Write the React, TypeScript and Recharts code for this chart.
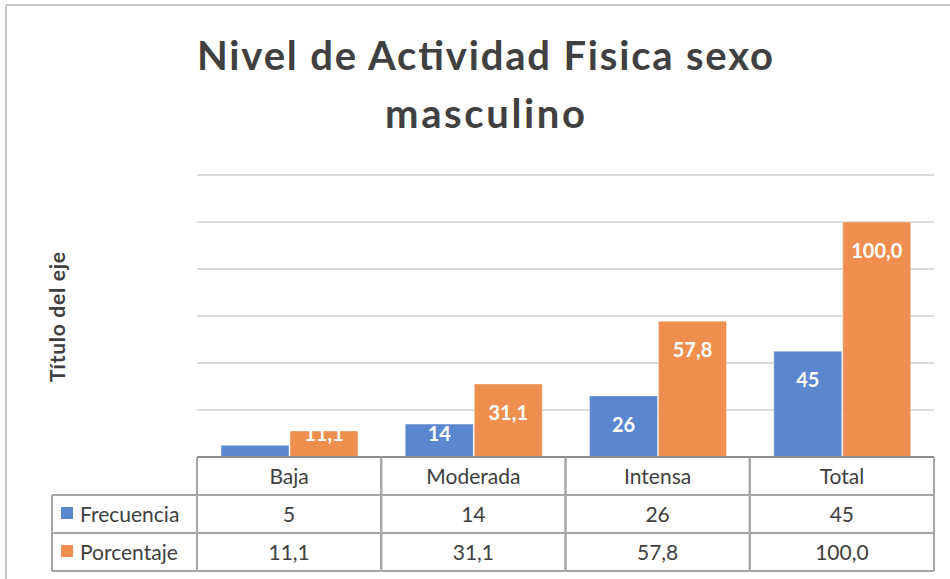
import React from 'react'
import { BarChart, Bar, XAxis, YAxis, CartesianGrid, LabelList } from 'recharts'

const categories = ['Baja', 'Moderada', 'Intensa', 'Total']
const frecuencia = [5, 14, 26, 45]
const porcentaje = [11.1, 31.1, 57.8, 100.0]
const yTicks = [0, 20, 40, 60, 80, 100, 120]

const FONT = 'Lato, "Open Sans", sans-serif'
const TEXT = '#404040'
const BORDER = '#a6a6a6'

const fmtInt = (v: number) => String(v)
const fmtPct = (v: number) => v.toFixed(1).replace('.', ',')

const series = [
  { key: 'frecuencia', name: 'Frecuencia', color: '#5B87CF', values: frecuencia, fmt: fmtInt },
  { key: 'porcentaje', name: 'Porcentaje', color: '#EF8F4F', values: porcentaje, fmt: fmtPct },
]

const data = categories.map((name, i) => ({
  name,
  frecuencia: frecuencia[i],
  porcentaje: porcentaje[i],
}))

const ROW_H = 38
const LEGEND_W = 145

// data table drawn under each category (Excel style "tabla de datos")
function TableTick(props: any) {
  const { x, y, payload } = props
  const half = payload?.offset || 92
  const left = x - half
  const right = x + half
  const i = payload.index
  const rows = [y, y + ROW_H, y + ROW_H * 2, y + ROW_H * 3]
  const mid = (r: number) => rows[r] + ROW_H / 2 - 1
  return (
    <g fontFamily={FONT} fontSize={21} fill={TEXT}>
      {/* cell borders */}
      <line x1={left} x2={left} y1={rows[0]} y2={rows[3]} stroke={BORDER} strokeWidth={2} />
      <line x1={right} x2={right} y1={rows[0]} y2={rows[3]} stroke={BORDER} strokeWidth={2} />
      <line x1={left} x2={right} y1={rows[1]} y2={rows[1]} stroke={BORDER} strokeWidth={2} />
      <line x1={left} x2={right} y1={rows[2]} y2={rows[2]} stroke={BORDER} strokeWidth={2} />
      <line x1={left} x2={right} y1={rows[3]} y2={rows[3]} stroke={BORDER} strokeWidth={2} />
      <text x={x} y={mid(0)} textAnchor="middle" dominantBaseline="central">
        {payload.value}
      </text>
      {series.map((s, r) => (
        <text key={s.key} x={x} y={mid(r + 1)} textAnchor="middle" dominantBaseline="central">
          {s.fmt(s.values[i])}
        </text>
      ))}
      {/* legend column on the left of the first category */}
      {i === 0 && (
        <g>
          <line x1={left - LEGEND_W} x2={left - LEGEND_W} y1={rows[1]} y2={rows[3]} stroke={BORDER} strokeWidth={2} />
          <line x1={left - LEGEND_W} x2={left} y1={rows[1]} y2={rows[1]} stroke={BORDER} strokeWidth={2} />
          <line x1={left - LEGEND_W} x2={left} y1={rows[2]} y2={rows[2]} stroke={BORDER} strokeWidth={2} />
          <line x1={left - LEGEND_W} x2={left} y1={rows[3]} y2={rows[3]} stroke={BORDER} strokeWidth={2} />
          {series.map((s, r) => (
            <g key={s.key}>
              <rect x={left - LEGEND_W + 9} y={mid(r + 1) - 6} width={12} height={12} fill={s.color} />
              <text x={left - LEGEND_W + 28} y={mid(r + 1)} dominantBaseline="central">
                {s.name}
              </text>
            </g>
          ))}
        </g>
      )}
    </g>
  )
}

// white label near the top of the bar, kept above the table for short bars
const makeLabel = (fmt: (v: number) => string) => (props: any) => {
  const { x, y, width, height, value } = props
  const cy = Math.min(y + 28, y + height - 24)
  return (
    <text
      x={x + width / 2}
      y={cy}
      textAnchor="middle"
      dominantBaseline="central"
      fill="#ffffff"
      fontFamily={FONT}
      fontWeight={700}
      fontSize={20}
    >
      {fmt(value)}
    </text>
  )
}

export default function App() {
  return (
    <div style={{ position: 'absolute', left: 0, top: 0, width: 950, height: 579, background: '#fff', overflow: 'hidden' }}>
      <BarChart
        width={950}
        height={579}
        data={data}
        margin={{ top: 175, right: 16, left: 197, bottom: 0 }}
        barCategoryGap={24}
        barGap={1}
      >
        <CartesianGrid vertical={false} stroke="#cfcfcf" strokeWidth={1.5} />
        <YAxis hide domain={[0, 120]} ticks={yTicks} />
        <XAxis
          dataKey="name"
          interval={0}
          height={122}
          tickSize={0}
          tickMargin={0}
          tickLine={false}
          axisLine={{ stroke: '#8c8c8c', strokeWidth: 2 }}
          tick={<TableTick />}
        />
        {series.map((s) => (
          <Bar
            key={s.key}
            dataKey={s.key}
            name={s.name}
            fill={s.color}
            stroke="#ffffff"
            strokeOpacity={0.4}
            strokeWidth={1}
            isAnimationActive={false}
          >
            <LabelList dataKey={s.key} content={makeLabel(s.fmt)} />
          </Bar>
        ))}
      </BarChart>
      <svg width={950} height={579} style={{ position: 'absolute', left: 0, top: 0, pointerEvents: 'none' }}>
        <line x1={6} x2={950} y1={5} y2={5} stroke="#c8c8c8" strokeWidth={2} />
        <line x1={6} x2={6} y1={5} y2={579} stroke="#c8c8c8" strokeWidth={2} />
        <text
          x={485}
          y={70}
          textAnchor="middle"
          fontFamily={FONT}
          fontWeight={700}
          fontSize={40}
          fill={TEXT}
          textLength={576}
          lengthAdjust="spacing"
        >
          Nivel de Actividad Fisica sexo
        </text>
        <text
          x={485}
          y={128}
          textAnchor="middle"
          fontFamily={FONT}
          fontWeight={700}
          fontSize={40}
          fill={TEXT}
          textLength={200}
          lengthAdjust="spacing"
        >
          masculino
        </text>
        <text
          x={56}
          y={317}
          transform="rotate(-90 56 317)"
          textAnchor="middle"
          dominantBaseline="central"
          fontFamily={FONT}
          fontWeight={700}
          fontSize={21}
          fill={TEXT}
          textLength={130}
          lengthAdjust="spacing"
        >
          Título del eje
        </text>
      </svg>
    </div>
  )
}
